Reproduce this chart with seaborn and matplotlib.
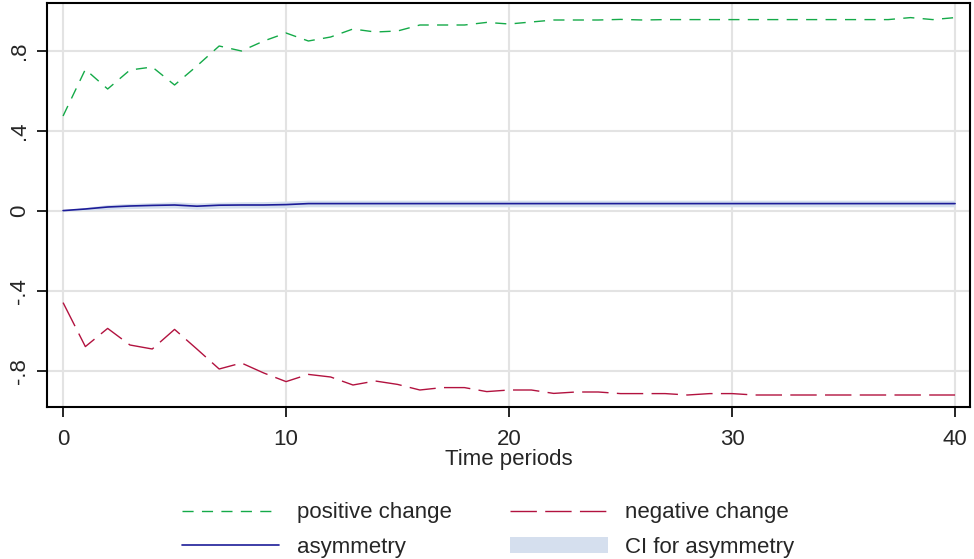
import seaborn as sns
import pandas as pd
import matplotlib.pyplot as plt

# Datos (t = 0..40)
periods = list(range(41))
positive = [0.475, 0.708, 0.610, 0.705, 0.720, 0.630, 0.725, 0.825, 0.800, 0.850,
            0.890, 0.850, 0.870, 0.910, 0.895, 0.900, 0.930, 0.930, 0.930, 0.943,
            0.935, 0.945, 0.955, 0.955, 0.955, 0.958, 0.955, 0.957, 0.957, 0.957,
            0.957, 0.957, 0.957, 0.957, 0.957, 0.957, 0.957, 0.957, 0.967, 0.957,
            0.967]
negative = [-0.458, -0.678, -0.587, -0.670, -0.690, -0.592, -0.690, -0.790, -0.760, -0.810,
            -0.853, -0.817, -0.830, -0.870, -0.850, -0.867, -0.895, -0.883, -0.883, -0.903,
            -0.895, -0.895, -0.912, -0.905, -0.905, -0.913, -0.913, -0.913, -0.920, -0.913,
            -0.913, -0.920, -0.920, -0.920, -0.920, -0.920, -0.920, -0.920, -0.920, -0.920,
            -0.920]
asymmetry = [0.002, 0.010, 0.020, 0.025, 0.028, 0.030, 0.024, 0.029, 0.030, 0.030,
             0.032, 0.037, 0.037, 0.037, 0.037, 0.037, 0.037, 0.037, 0.037, 0.037,
             0.037, 0.037, 0.037, 0.037, 0.037, 0.037, 0.037, 0.037, 0.037, 0.037,
             0.037, 0.037, 0.037, 0.037, 0.037, 0.037, 0.037, 0.037, 0.037, 0.037,
             0.037]
ci_upper = [0.004, 0.018, 0.032, 0.038, 0.042, 0.046, 0.040, 0.044, 0.046, 0.047,
            0.050, 0.054, 0.054, 0.054, 0.054, 0.054, 0.054, 0.054, 0.054, 0.054,
            0.054, 0.054, 0.054, 0.054, 0.054, 0.054, 0.054, 0.054, 0.054, 0.054,
            0.054, 0.054, 0.054, 0.054, 0.054, 0.054, 0.054, 0.054, 0.054, 0.054,
            0.054]
ci_lower = [0.000, 0.003, 0.008, 0.012, 0.014, 0.015, 0.009, 0.014, 0.015, 0.015,
            0.016, 0.021, 0.021, 0.021, 0.021, 0.021, 0.021, 0.021, 0.021, 0.021,
            0.021, 0.021, 0.021, 0.021, 0.021, 0.021, 0.021, 0.021, 0.021, 0.021,
            0.021, 0.021, 0.021, 0.021, 0.021, 0.021, 0.021, 0.021, 0.021, 0.021,
            0.021]
yticks = [-0.8, -0.4, 0, 0.4, 0.8]
ytick_labels = ['-.8', '-.4', '0', '.4', '.8']
xticks = [0, 10, 20, 30, 40]

df = pd.DataFrame({'t': periods, 'pos': positive, 'neg': negative, 'asym': asymmetry,
                   'lo': ci_lower, 'hi': ci_upper})

sns.set_style('white')
plt.rcParams['font.family'] = ['Liberation Sans Narrow', 'Liberation Sans', 'DejaVu Sans']

fig = plt.figure(figsize=(9.74, 5.59), dpi=100)
ax = fig.add_axes([47 / 974, 1 - 407 / 559, 923 / 974, 404 / 559])

green = '#14aa48'
red = '#b2123f'
navy = '#1c1c98'
ci_col = '#d5dfee'

ax.fill_between(df['t'], df['lo'], df['hi'], color=ci_col, linewidth=0, zorder=2,
                label='CI for asymmetry')
sns.lineplot(x='t', y='pos', data=df, ax=ax, color=green, linewidth=1.0,
             label='positive change', zorder=3)
sns.lineplot(x='t', y='neg', data=df, ax=ax, color=red, linewidth=1.0,
             label='negative change', zorder=3)
sns.lineplot(x='t', y='asym', data=df, ax=ax, color=navy, linewidth=1.2,
             label='asymmetry', zorder=4)
ax.lines[0].set_dashes([8, 6])
ax.lines[1].set_dashes([19, 6])

ax.set_xlim(-0.72, 40.67)
ax.set_ylim(-0.98, 1.04)
ax.set_xticks(xticks)
ax.set_yticks(yticks)
ax.set_yticklabels(ytick_labels, rotation=90, va='center')
ax.tick_params(axis='both', direction='out', length=7, width=1.2, color='black',
               labelsize=16, bottom=True, left=True)
ax.tick_params(axis='x', pad=9)
ax.tick_params(axis='y', pad=5)
ax.grid(True, color='#e3e3e3', linewidth=1.5, zorder=0)
ax.set_axisbelow(True)
for s in ax.spines.values():
    s.set_color('black')
    s.set_linewidth(1.5)

ax.set_xlabel('Time periods', fontsize=16, labelpad=-1)
ax.set_ylabel('')

# Leyenda en dos columnas, sin marco (se llena por columnas)
handles, labels = ax.get_legend_handles_labels()
order = ['positive change', 'asymmetry', 'negative change', 'CI for asymmetry']
hmap = dict(zip(labels, handles))
ax.get_legend().remove()
fig.legend([hmap[k] for k in order], order, loc='center', ncol=2,
           bbox_to_anchor=(488 / 974, 1 - 530 / 559), frameon=False, fontsize=16,
           handlelength=4.4, handletextpad=0.8, columnspacing=2.6, labelspacing=0.6)

plt.savefig('out.png', dpi=100)
